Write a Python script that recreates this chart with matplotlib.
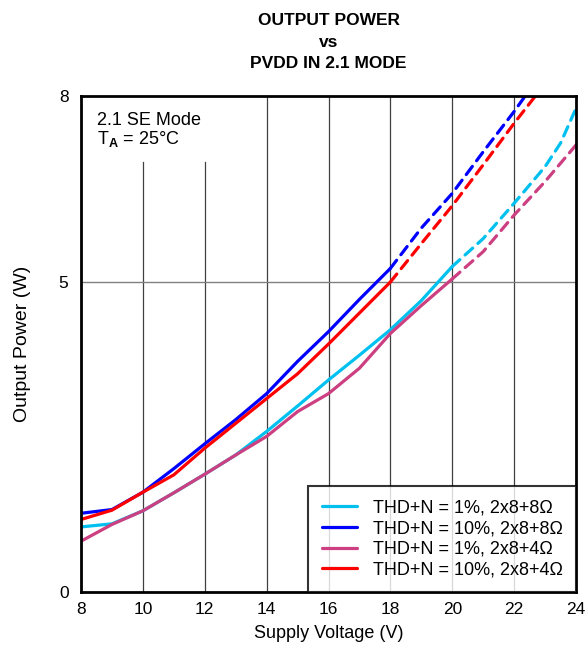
import numpy as np
import matplotlib
matplotlib.use("Agg")
import matplotlib.pyplot as plt

plt.rcParams['font.family'] = ['Liberation Sans', 'DejaVu Sans']
plt.rcParams['mathtext.fontset'] = 'custom'
plt.rcParams['mathtext.rm'] = 'Liberation Sans'
plt.rcParams['mathtext.bf'] = 'Liberation Sans:bold'

# measured part (solid)
v_8ohm_1 = [8, 9, 10, 11, 12, 13, 14, 15, 16, 17, 18, 19, 20]
p_8ohm_1 = [1.05, 1.10, 1.31, 1.60, 1.90, 2.21, 2.59, 3.00, 3.42, 3.82, 4.23, 4.70, 5.25]
v_8ohm_10 = [8, 9, 10, 11, 12, 13, 14, 15, 16, 17, 18]
p_8ohm_10 = [1.27, 1.33, 1.61, 1.99, 2.39, 2.78, 3.20, 3.72, 4.20, 4.72, 5.22]
v_4ohm_1 = [8, 9, 10, 11, 12, 13, 14, 15, 16, 17, 18, 19, 20]
p_4ohm_1 = [0.82, 1.09, 1.31, 1.60, 1.90, 2.21, 2.51, 2.91, 3.20, 3.61, 4.17, 4.62, 5.05]
v_4ohm_10 = [8, 9, 10, 11, 12, 13, 14, 15, 16, 17, 18]
p_4ohm_10 = [1.17, 1.32, 1.61, 1.89, 2.32, 2.72, 3.12, 3.52, 4.00, 4.50, 5.00]

# extrapolated part (dashed)
vd_8ohm_1 = [20, 21, 22, 23, 23.5, 24]
pd_8ohm_1 = [5.25, 5.70, 6.27, 6.86, 7.24, 7.80]
vd_8ohm_10 = [18, 19, 20, 21, 22, 22.5]
pd_8ohm_10 = [5.22, 5.87, 6.43, 7.10, 7.75, 8.10]
vd_4ohm_1 = [20, 21, 22, 23, 24]
pd_4ohm_1 = [5.05, 5.49, 6.08, 6.62, 7.21]
vd_4ohm_10 = [18, 19, 20, 21, 22, 23]
pd_4ohm_10 = [5.00, 5.62, 6.23, 6.89, 7.56, 8.20]

labels = ["THD+N = 1%, 2x8+8Ω", "THD+N = 10%, 2x8+8Ω",
          "THD+N = 1%, 2x8+4Ω", "THD+N = 10%, 2x8+4Ω"]
colors = ["#00C0F0", "#0000FF", "#CC3F80", "#FF0000"]

fig = plt.figure(figsize=(5.88, 6.5), dpi=100)
ax = fig.add_axes([0.1378, 0.0892, 0.8418, 0.7631])

# grid
for xv in [14, 16, 18, 20, 22]:
    ax.axvline(xv, color="#404040", lw=0.9, zorder=0)
for xv in [10, 12]:
    ax.axvline(xv, ymax=6.94 / 8, color="#404040", lw=0.9, zorder=0)
ax.axhline(5, color="#808080", lw=1.0, zorder=0)

solid = [(v_8ohm_1, p_8ohm_1), (v_8ohm_10, p_8ohm_10), (v_4ohm_1, p_4ohm_1), (v_4ohm_10, p_4ohm_10)]
dashed = [(vd_8ohm_1, pd_8ohm_1), (vd_8ohm_10, pd_8ohm_10), (vd_4ohm_1, pd_4ohm_1), (vd_4ohm_10, pd_4ohm_10)]
for (x, y), (xd, yd), c, lab in zip(solid, dashed, colors, labels):
    ax.plot(x, y, color=c, lw=2.3, label=lab, solid_capstyle='round')
    ax.plot(xd, yd, color=c, lw=2.3, dashes=(3.2, 2.2), dash_capstyle='round')

ax.set_xlim(8, 24)
ax.set_ylim(0, 8)
ax.set_xticks(np.arange(8, 25, 2))
ax.set_yticks([0, 5, 8])
ax.tick_params(length=0, labelsize=12.5)
ax.tick_params(axis='x', pad=7)
ax.tick_params(axis='y', pad=9)
for s in ax.spines.values():
    s.set_linewidth(2)

ax.set_xlabel("Supply Voltage (V)", fontsize=13, labelpad=6)
ax.set_ylabel("Output Power (W)", fontsize=14, labelpad=20)
ax.set_title("OUTPUT POWER\nvs\nPVDD IN 2.1 MODE", fontsize=12.5, fontweight='bold',
             linespacing=1.55, pad=20)

ax.text(0.032, 0.968, "2.1 SE Mode\nT$_\\mathbf{A}$ = 25°C", transform=ax.transAxes,
        fontsize=13, va='top', ha='left', linespacing=1.0)

leg = ax.legend(loc='lower right', fontsize=13, frameon=True, fancybox=False,
                borderaxespad=0, handlelength=1.95, labelspacing=0.2,
                borderpad=0.75, handletextpad=0.85)
leg.get_frame().set_edgecolor('black')
leg.get_frame().set_linewidth(1.5)

fig.savefig("out.png", dpi=100)
